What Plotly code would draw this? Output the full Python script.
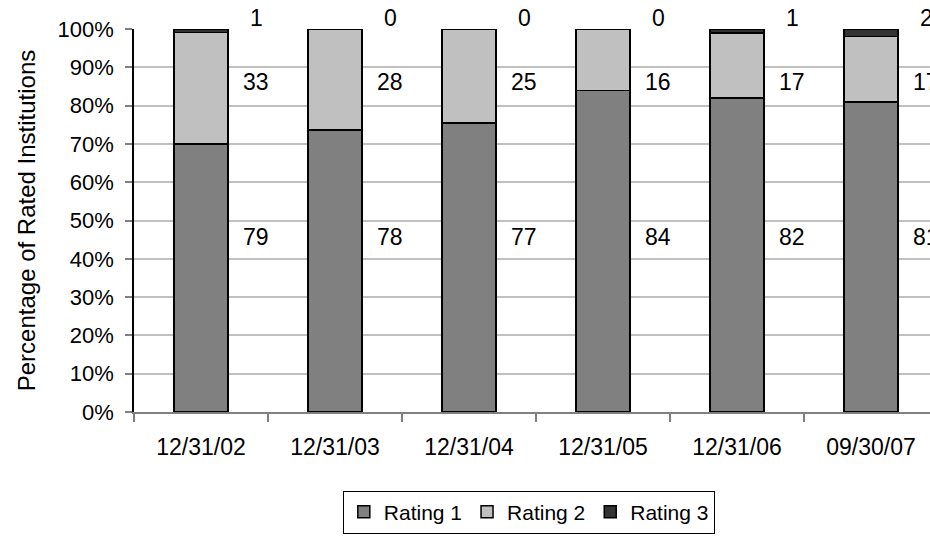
import plotly.graph_objects as go

# Number of rated institutions per rating at each reporting date
dates = ["12/31/02", "12/31/03", "12/31/04", "12/31/05", "12/31/06", "09/30/07"]
rating1 = [79, 78, 77, 84, 82, 81]
rating2 = [33, 28, 25, 16, 17, 17]
rating3 = [1, 0, 0, 0, 1, 2]

series = [
    ("Rating 1", rating1, "#808080"),
    ("Rating 2", rating2, "#c0c0c0"),
    ("Rating 3", rating3, "#333333"),
]

totals = [a + b + c for a, b, c in zip(rating1, rating2, rating3)]

FONT = "Liberation Sans, Arial, sans-serif"

fig = go.Figure()
for name, counts, color in series:
    share = [c / t for c, t in zip(counts, totals)]
    fig.add_trace(go.Bar(
        x=dates, y=share, name=name,
        marker=dict(color=color, line=dict(color="#000000", width=1.5)),
        width=0.4,
    ))

# Count labels placed to the right of each bar, one row per rating
label_rows = [(rating1, 0.457), (rating2, 0.862), (rating3, 1.029)]
for counts, yval in label_rows:
    for d, c in zip(dates, counts):
        fig.add_annotation(
            x=d, y=yval, yref="paper", yanchor="middle", text=str(c),
            showarrow=False, xshift=55,
            font=dict(family=FONT, size=23, color="#000000"),
        )

fig.update_layout(
    width=930, height=536,
    margin=dict(l=134, r=0, t=29, b=124),
    barmode="stack",
    plot_bgcolor="#ffffff", paper_bgcolor="#ffffff",
    font=dict(family=FONT, size=22, color="#000000"),
    showlegend=True,
    legend=dict(
        orientation="h", x=0.496, xanchor="center", y=-0.205, yanchor="top",
        bordercolor="#000000", borderwidth=1,
        font=dict(family=FONT, size=21, color="#000000"),
        itemwidth=30, traceorder="normal",
    ),
)

fig.update_xaxes(
    type="category", range=[-0.5, 5.44],
    showgrid=False, showline=True, linecolor="#808080", linewidth=1.5,
    ticks="outside", tickson="boundaries", ticklen=8, tickcolor="#808080",
    tickwidth=1.5, ticklabelstandoff=14,
    tickfont=dict(family=FONT, size=23, color="#000000"),
)
fig.update_yaxes(
    range=[0, 1], dtick=0.1, tickformat=".0%",
    showgrid=True, gridcolor="#c0c0c0", gridwidth=1.5,
    showline=True, linecolor="#000000", linewidth=1.5,
    ticks="outside", ticklen=7, tickcolor="#808080", tickwidth=1.5,
    ticklabelstandoff=7,
    tickfont=dict(family=FONT, size=22, color="#000000"),
    title=dict(text="Percentage of Rated Institutions",
               font=dict(family=FONT, size=24, color="#000000"), standoff=15),
    zeroline=False,
)

fig.write_html("out.html")
